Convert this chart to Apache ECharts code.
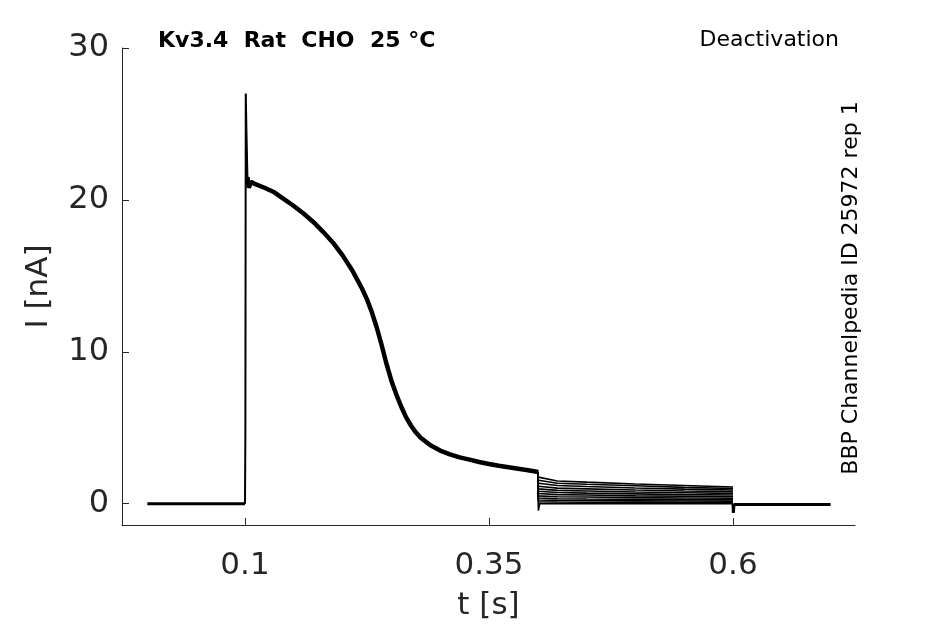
<!DOCTYPE html>
<html>
<head>
<meta charset="utf-8">
<script src="https://cdn.jsdelivr.net/npm/echarts@6/dist/echarts.min.js"></script>
<style>
  html, body { margin: 0; padding: 0; background: #fff; }
  #main { width: 945px; height: 624px; }
</style>
</head>
<body>
<div id="main"></div>
<script>
// tick positions
var xTicks = [0.1, 0.35, 0.6];
var yTicks = [0, 10, 20, 30];

// holding level before the pulse
var preT = [0, 0.1];
var preI = [0, 0];

// the step up and the fast spike
var riseT = [0.1, 0.1004, 0.1008, 0.1015, 0.1025];
var riseI = [0, 4.5, 27.0, 24.5, 21.5];

// activation current, shared by all sweeps
var actT = [0.1025, 0.104, 0.106, 0.11, 0.12, 0.13, 0.14, 0.15, 0.16, 0.17, 0.18, 0.19, 0.2, 0.21, 0.215, 0.22, 0.225, 0.23, 0.235, 0.24, 0.245, 0.25, 0.255, 0.26, 0.265, 0.27, 0.275, 0.28, 0.29, 0.3, 0.31, 0.32, 0.33, 0.34, 0.35, 0.36, 0.37, 0.38, 0.39, 0.399, 0.4];
var actI = [21.5, 20.8, 21.2, 21.05, 20.8, 20.5, 20.05, 19.6, 19.1, 18.55, 17.9, 17.2, 16.35, 15.35, 14.75, 14.15, 13.45, 12.6, 11.6, 10.45, 9.2, 8.1, 7.2, 6.4, 5.7, 5.15, 4.7, 4.35, 3.85, 3.5, 3.25, 3.05, 2.9, 2.75, 2.62, 2.5, 2.4, 2.3, 2.2, 2.1, 2.05];

// deactivation steps, one row per sweep
var deactT = [0.4, 0.4006, 0.402, 0.42, 0.45, 0.5, 0.55, 0.6];
var deactI = [
  [2.05, 1.75, 1.7, 1.5, 1.42, 1.3, 1.2, 1.1],
  [2.05, 1.55, 1.5, 1.35, 1.28, 1.18, 1.08, 1.0],
  [2.05, 1.35, 1.3, 1.2, 1.13, 1.04, 0.96, 0.9],
  [2.05, 1.15, 1.1, 1.03, 0.98, 0.9, 0.84, 0.8],
  [2.05, 0.98, 0.95, 0.88, 0.84, 0.77, 0.72, 0.68],
  [2.05, 0.82, 0.8, 0.74, 0.7, 0.65, 0.6, 0.57],
  [2.05, 0.67, 0.65, 0.6, 0.57, 0.52, 0.49, 0.46],
  [2.05, 0.52, 0.5, 0.46, 0.44, 0.4, 0.38, 0.36],
  [2.05, 0.38, 0.36, 0.33, 0.31, 0.29, 0.27, 0.26],
  [2.05, 0.25, 0.24, 0.22, 0.21, 0.19, 0.18, 0.17],
  [2.05, 0.13, 0.12, 0.11, 0.1, 0.09, 0.08, 0.08],
  [2.05, -0.45, 0.02, 0.01, 0.01, 0.0, 0.0, 0.0]
];

// return to holding level
var tailT = [0.6, 0.6004, 0.601, 0.7];
var tailI = [0.0, -0.6, -0.05, -0.05];

function pairs(t, v) {
  var out = [];
  for (var i = 0; i < t.length; i++) out.push([t[i], v[i]]);
  return out;
}

var myChart = echarts.init(document.getElementById('main'));
var axisColor = '#262626';
var font = 'DejaVu Sans';

var series = [];
function addLine(data, width) {
  series.push({
    type: 'line',
    data: data,
    showSymbol: false,
    symbol: 'none',
    silent: true,
    animation: false,
    lineStyle: { color: '#000', width: width }
  });
}
addLine(pairs(preT, preI), 3);
addLine(pairs(riseT, riseI), 2);
addLine(pairs(actT, actI), 4.5);
for (var k = 0; k < deactI.length; k++) {
  addLine(pairs(deactT, deactI[k]), 1.6);
}
addLine(pairs(tailT, tailI), 3);

var option = {
  backgroundColor: '#fff',
  animation: false,
  grid: { left: 122, right: 90, top: 48, bottom: 99, outerBoundsMode: 'none', containLabel: false },
  xAxis: {
    type: 'value',
    min: -0.026,
    max: 0.725,
    name: 't [s]',
    nameLocation: 'middle',
    nameGap: 65,
    nameTextStyle: { fontFamily: font, fontSize: 31, color: axisColor },
    axisLine: { onZero: false, lineStyle: { color: axisColor, width: 1 } },
    axisTick: { inside: true, length: 7, customValues: xTicks, lineStyle: { color: axisColor } },
    axisLabel: {
      customValues: xTicks, margin: 25,
      fontFamily: font, fontSize: 31, color: axisColor,
      formatter: function (v) { return String(v); }
    },
    splitLine: { show: false }
  },
  yAxis: {
    type: 'value',
    min: -1.4,
    max: 30,
    name: 'I [nA]',
    nameLocation: 'middle',
    nameGap: 68,
    nameTextStyle: { fontFamily: font, fontSize: 31, color: axisColor },
    axisLine: { show: true, onZero: false, lineStyle: { color: axisColor, width: 1 } },
    axisTick: { show: true, inside: true, length: 7, customValues: yTicks, lineStyle: { color: axisColor } },
    axisLabel: {
      customValues: yTicks, margin: 13,
      fontFamily: font, fontSize: 32, color: axisColor
    },
    splitLine: { show: false }
  },
  graphic: [
    {
      type: 'text', left: 158, top: 30,
      style: { text: 'Kv3.4  Rat  CHO  25 °C', fontFamily: font, fontSize: 22, fontWeight: 'bold', fill: '#000' }
    },
    {
      type: 'text', right: 106, top: 29,
      style: { text: 'Deactivation', fontFamily: font, fontSize: 22, fill: '#000' }
    },
    {
      type: 'text', x: 851, y: 288, rotation: Math.PI / 2,
      style: { text: 'BBP Channelpedia ID 25972 rep 1', fontFamily: font, fontSize: 22, fill: '#000', align: 'center', verticalAlign: 'middle' }
    }
  ],
  series: series
};
myChart.setOption(option);
</script>
</body>
</html>
